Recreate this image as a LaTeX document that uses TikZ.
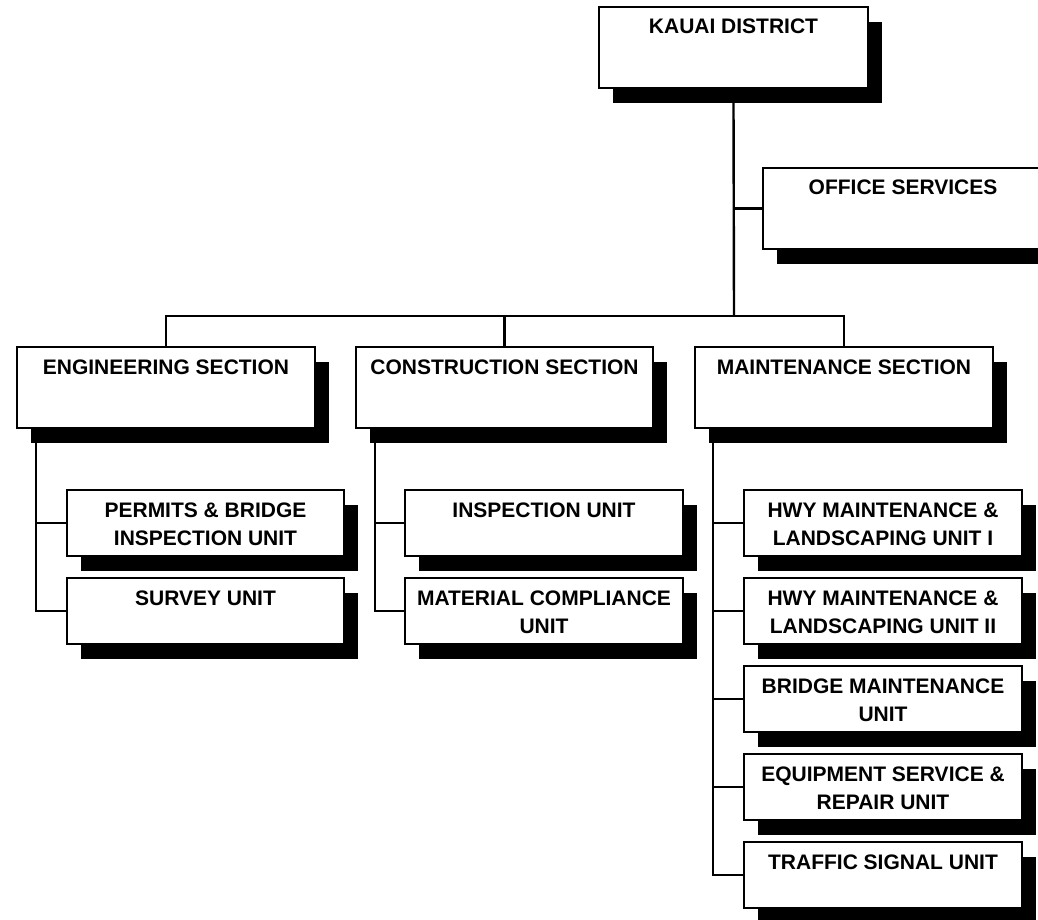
\documentclass[tikz,border=0pt]{standalone}
\usepackage{fontspec}
\setmainfont{Liberation Sans}
\usetikzlibrary{shadows}
\newcommand{\orgbox}[3]{\parbox[c][#1][t]{#2}{\centering\rule{0pt}{27pt}#3}}
\tikzset{
  orgnode/.style={draw, line width=2.2pt, fill=white, inner sep=0pt, outer sep=0pt,
    anchor=north west,
    drop shadow={shadow xshift=14pt, shadow yshift=-15pt, opacity=1, fill=black},
    font=\bfseries\fontsize{21pt}{28pt}\selectfont},
  link/.style={line width=2.4pt}
}
\begin{document}
\begin{tikzpicture}[x=1pt,y=-1pt]
\useasboundingbox (0,0) rectangle (1038,920);
\clip (0,0) rectangle (1038,920);
\fill[white] (0,0) rectangle (1038,920);
\coordinate (bus) at (734,316);
\coordinate (et) at (36,428);
\coordinate (ct) at (375,428);
\coordinate (mt) at (713,428);
\node[orgnode] (kauai) at (599,7) {\orgbox{81pt}{269pt}{KAUAI DISTRICT}};
\node[orgnode] (office) at (763,168) {\orgbox{81pt}{280pt}{OFFICE SERVICES}};
\node[orgnode] (eng) at (17,347) {\orgbox{81pt}{298pt}{ENGINEERING SECTION}};
\node[orgnode] (con) at (356,347) {\orgbox{81pt}{297pt}{CONSTRUCTION SECTION}};
\node[orgnode] (mnt) at (695,347) {\orgbox{81pt}{298pt}{MAINTENANCE SECTION}};
\node[orgnode] (permits) at (67,490) {\orgbox{66pt}{277pt}{PERMITS \& BRIDGE\\INSPECTION UNIT}};
\node[orgnode] (survey) at (67,578) {\orgbox{66pt}{277pt}{SURVEY UNIT}};
\node[orgnode] (insp) at (405,490) {\orgbox{66pt}{278pt}{INSPECTION UNIT}};
\node[orgnode] (material) at (405,578) {\orgbox{66pt}{278pt}{MATERIAL COMPLIANCE\\UNIT}};
\node[orgnode] (hwy1) at (744,490) {\orgbox{66pt}{278pt}{HWY MAINTENANCE \&\\LANDSCAPING UNIT I}};
\node[orgnode] (hwy2) at (744,578) {\orgbox{66pt}{278pt}{HWY MAINTENANCE \&\\LANDSCAPING UNIT II}};
\node[orgnode] (bridge) at (744,666) {\orgbox{66pt}{278pt}{BRIDGE MAINTENANCE\\UNIT}};
\node[orgnode] (equip) at (744,754) {\orgbox{66pt}{278pt}{EQUIPMENT SERVICE \&\\REPAIR UNIT}};
\node[orgnode] (traffic) at (744,842) {\orgbox{66pt}{278pt}{TRAFFIC SIGNAL UNIT}};
% connectors
\draw[link] (kauai.south) ++(0,15) -- (bus);
\draw[link] (kauai.south |- office.west) -- (office.west);
\draw[link] (eng.north) -- (eng.north |- bus) -- (mnt.north |- bus) -- (mnt.north);
\draw[link] (con.north) -- (con.north |- bus);
\draw[link] (et) ++(0,15) |- (survey.west);
\draw[link] (et |- permits.west) -- (permits.west);
\draw[link] (ct) ++(0,15) |- (material.west);
\draw[link] (ct |- insp.west) -- (insp.west);
\draw[link] (mt) ++(0,15) |- (traffic.west);
\draw[link] (mt |- hwy1.west) -- (hwy1.west);
\draw[link] (mt |- hwy2.west) -- (hwy2.west);
\draw[link] (mt |- bridge.west) -- (bridge.west);
\draw[link] (mt |- equip.west) -- (equip.west);
\end{tikzpicture}
\end{document}
